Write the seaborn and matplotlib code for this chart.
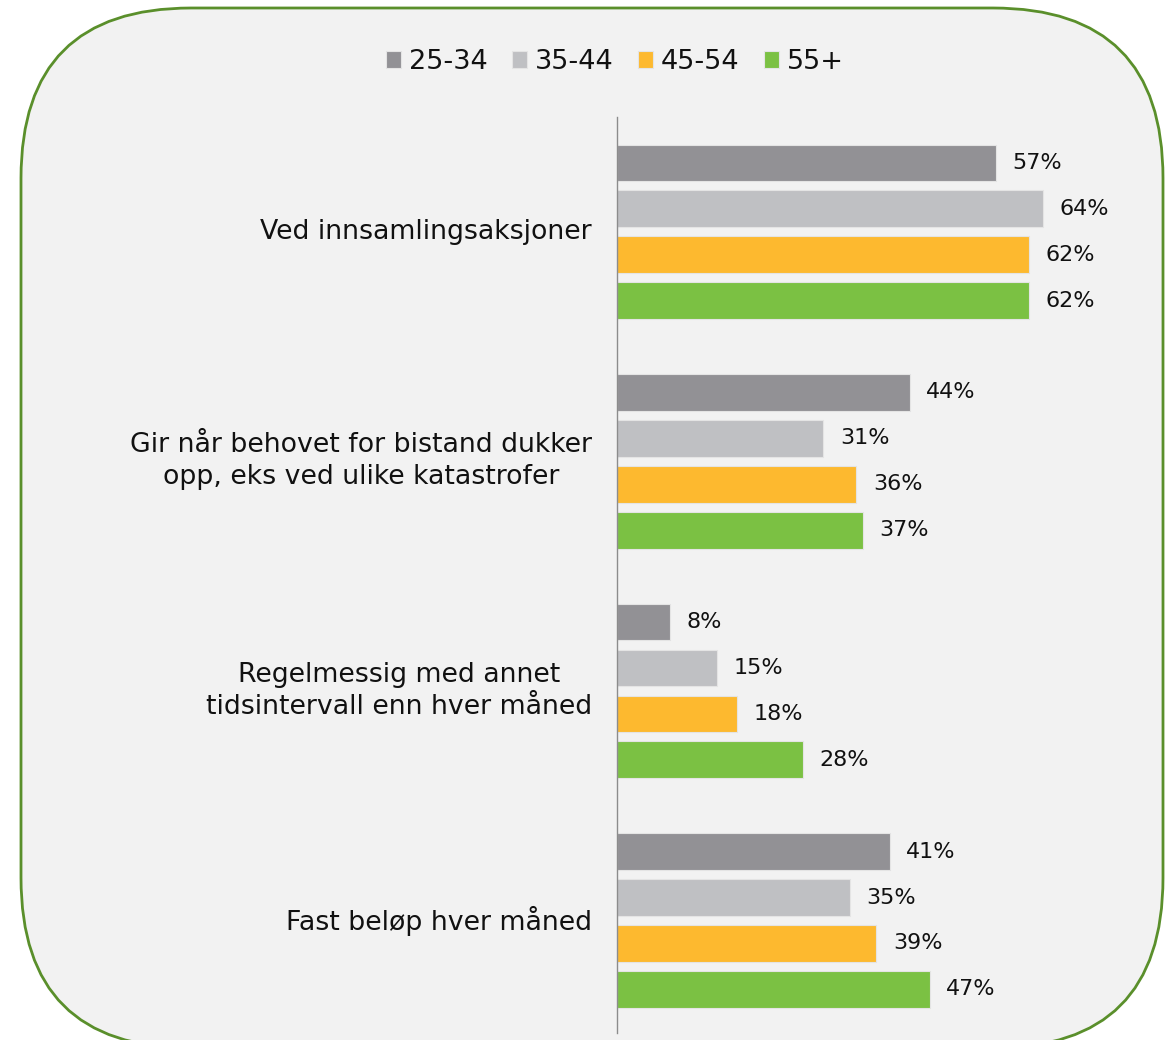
import matplotlib
matplotlib.use("Agg")
import matplotlib.pyplot as plt
from matplotlib.patches import FancyBboxPatch
import seaborn as sns
import pandas as pd

categories = [
    "Ved innsamlingsaksjoner",
    "Gir når behovet for bistand dukker\nopp, eks ved ulike katastrofer",
    "Regelmessig med annet\ntidsintervall enn hver måned",
    "Fast beløp hver måned",
]
age_groups = ["25-34", "35-44", "45-54", "55+"]
values_25_34 = [57, 44, 8, 41]
values_35_44 = [64, 31, 15, 35]
values_45_54 = [62, 36, 18, 39]
values_55p = [62, 37, 28, 47]
colors = ["#929195", "#bfc0c3", "#fdb92f", "#7bc143"]

series = [values_25_34, values_35_44, values_45_54, values_55p]
rows = []
for age, vals in zip(age_groups, series):
    for cat, v in zip(categories, vals):
        rows.append({"category": cat, "age": age, "value": v})
df = pd.DataFrame(rows)

sns.set_theme(style="white")
plt.rcParams["font.family"] = ["DejaVu Sans"]

W, H = 1176, 1040
fig = plt.figure(figsize=(W / 100, H / 100), dpi=100)
fig.patch.set_facecolor("white")

# background rounded panel
bg = fig.add_axes([0, 0, 1, 1], zorder=0)
bg.set_xlim(0, W)
bg.set_ylim(H, 0)
bg.axis("off")
panel = FancyBboxPatch((21, 8), 1142, 1040,
                       boxstyle="round,pad=0,rounding_size=170",
                       facecolor="#f2f2f2", edgecolor="#5a8f2b", linewidth=2)
bg.add_patch(panel)

left = 617 / W
right = 1149 / W
top = 1 - 117 / H
bottom = 1 - 1033 / H
ax = fig.add_axes([left, bottom, right - left, top - bottom], zorder=1)
ax.set_facecolor("none")

sns.barplot(data=df, y="category", x="value", hue="age", order=categories,
            hue_order=age_groups, palette=colors, saturation=1, orient="h",
            width=0.8, gap=0.2, edgecolor="#e4e4e4", linewidth=0.8, ax=ax)

for cont in ax.containers:
    ax.bar_label(cont, labels=[f"{w.get_width():.0f}%" for w in cont],
                 padding=12, fontsize=16, color="#111111")

ax.set_xlim(0, 80)
ax.set_ylim(3.49, -0.5)
ax.set_xlabel("")
ax.set_ylabel("")
ax.set_xticks([])
ax.tick_params(axis="y", length=0, pad=18, labelsize=19.3, labelcolor="#111111")
for lbl in ax.get_yticklabels():
    lbl.set_multialignment("center")
    lbl.set_linespacing(1.3)
    lbl.set_verticalalignment("center")
for s in ["top", "right", "bottom"]:
    ax.spines[s].set_visible(False)
ax.spines["left"].set_color("#8c8c8c")
ax.spines["left"].set_linewidth(1)

handles, labels = ax.get_legend_handles_labels()
ax.get_legend().remove()
fig.legend(handles, labels, loc="center", bbox_to_anchor=(615 / W, 1 - 62 / H),
           ncol=4, frameon=False, fontsize=19.5, handlelength=0.55,
           handleheight=0.55, handletextpad=0.3, columnspacing=0.9,
           labelcolor="#111111")

fig.savefig("out.png", dpi=100)
